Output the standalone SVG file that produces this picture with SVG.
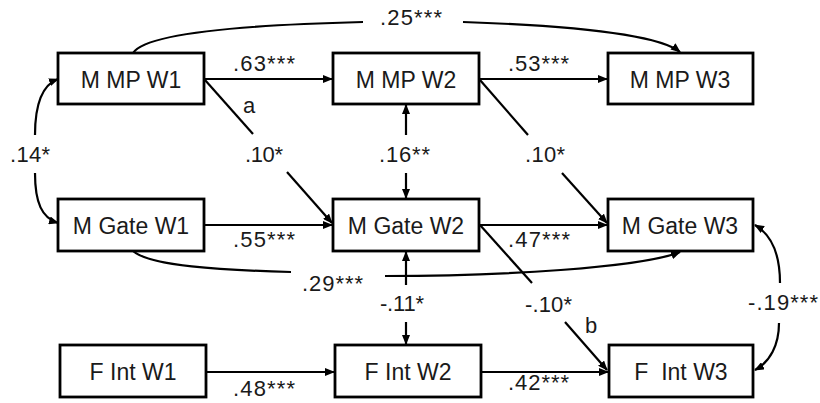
<svg xmlns="http://www.w3.org/2000/svg" width="820" height="403" viewBox="0 0 820 403">
<style>
.box{fill:#fff;stroke:#000;stroke-width:2.8}
.nl{font-family:"Liberation Sans",Arial,sans-serif;font-size:23px;fill:#1a1a1a;text-anchor:middle}
.el{font-family:"Liberation Sans",Arial,sans-serif;font-size:22px;fill:#1a1a1a}
.c{fill:none;stroke:#000;stroke-width:2.2}
</style>
<defs>
<marker id="ah" markerUnits="userSpaceOnUse" markerWidth="10" markerHeight="8" refX="9" refY="4" orient="auto">
<path d="M0,0 L10,4 L0,8 z" fill="#000"/>
</marker>
</defs>
<rect width="820" height="403" fill="#fff"/>
<g id="connectors">
<path class="c" d="M204,79 L332,79" marker-end="url(#ah)"/>
<path class="c" d="M479,79 L607,79" marker-end="url(#ah)"/>
<path class="c" d="M204,225 L332,225" marker-end="url(#ah)"/>
<path class="c" d="M479,225 L607,225" marker-end="url(#ah)"/>
<path class="c" d="M206,372 L334,372" marker-end="url(#ah)"/>
<path class="c" d="M481,372 L608,372" marker-end="url(#ah)"/>
<path class="c" d="M133,53 C145,34 240,25 363,22"/>
<path class="c" d="M463,22 C580,26 660,36 680,52" marker-end="url(#ah)"/>
<path class="c" d="M133,251 C150,266 220,270 291,272"/>
<path class="c" d="M385,276 C500,276 640,268 680,252" marker-end="url(#ah)"/>
<path class="c" d="M205,80 L253,134"/>
<path class="c" d="M287,172 L332,223" marker-end="url(#ah)"/>
<path class="c" d="M480,80 L528,135"/>
<path class="c" d="M562,173 L607,223" marker-end="url(#ah)"/>
<path class="c" d="M480,225 L532,283"/>
<path class="c" d="M565,322 L607,370" marker-end="url(#ah)"/>
<path class="c" d="M406,135 L406,105" marker-end="url(#ah)"/>
<path class="c" d="M406,173 L406,198" marker-end="url(#ah)"/>
<path class="c" d="M406,285 L406,252" marker-end="url(#ah)"/>
<path class="c" d="M406,322 L406,344" marker-end="url(#ah)"/>
<path class="c" d="M35,135 C35,105 42,85 58,79" marker-end="url(#ah)"/>
<path class="c" d="M35,173 C35,203 42,218 58,223" marker-end="url(#ah)"/>
<path class="c" d="M780,283 C780,255 772,235 755,225" marker-end="url(#ah)"/>
<path class="c" d="M779,323 C779,345 770,362 755,370" marker-end="url(#ah)"/>
</g>
<g id="edge-labels">
<text class="el" x="380" y="25" textLength="62">.25***</text>
<text class="el" x="233" y="71" textLength="62">.63***</text>
<text class="el" x="508" y="71" textLength="61">.53***</text>
<text class="el" x="243" y="113">a</text>
<text class="el" x="10" y="162" textLength="40">.14*</text>
<text class="el" x="245" y="162" textLength="38">.10*</text>
<text class="el" x="379" y="162" textLength="51">.16**</text>
<text class="el" x="525" y="162" textLength="40">.10*</text>
<text class="el" x="233" y="247" textLength="62">.55***</text>
<text class="el" x="508" y="247" textLength="62">.47***</text>
<text class="el" x="302" y="291" textLength="61">.29***</text>
<text class="el" x="380" y="311" textLength="44">-.11*</text>
<text class="el" x="525" y="312" textLength="47">-.10*</text>
<text class="el" x="585" y="333">b</text>
<text class="el" x="748" y="310" textLength="70">-.19***</text>
<text class="el" x="233" y="396" textLength="62">.48***</text>
<text class="el" x="508" y="390" textLength="61">.42***</text>
</g>
<g id="n-mmp1"><rect class="box" x="58" y="53" width="146" height="51"/><text class="nl" x="131" y="88">M MP W1</text></g>
<g id="n-mmp2"><rect class="box" x="333" y="53" width="146" height="51"/><text class="nl" x="406" y="88">M MP W2</text></g>
<g id="n-mmp3"><rect class="box" x="608" y="53" width="145" height="51"/><text class="nl" x="680" y="88">M MP W3</text></g>
<g id="n-mg1"><rect class="box" x="58" y="199" width="146" height="52"/><text class="nl" x="131" y="234">M Gate W1</text></g>
<g id="n-mg2"><rect class="box" x="333" y="199" width="146" height="52"/><text class="nl" x="406" y="234">M Gate W2</text></g>
<g id="n-mg3"><rect class="box" x="608" y="199" width="145" height="52"/><text class="nl" x="680" y="234">M Gate W3</text></g>
<g id="n-fi1"><rect class="box" x="60" y="345" width="146" height="52"/><text class="nl" x="133" y="380">F Int W1</text></g>
<g id="n-fi2"><rect class="box" x="335" y="345" width="146" height="52"/><text class="nl" x="408" y="380">F Int W2</text></g>
<g id="n-fi3"><rect class="box" x="609" y="345" width="144" height="52"/><text class="nl" x="681" y="380" xml:space="preserve">F  Int W3</text></g>
</svg>
